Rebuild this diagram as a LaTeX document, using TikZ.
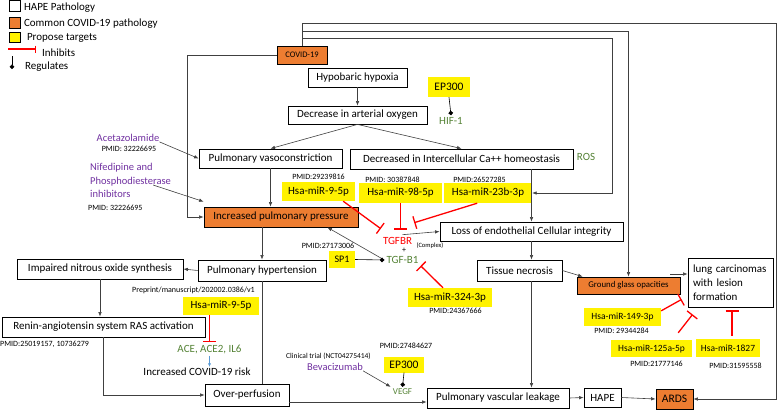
\documentclass[tikz,border=0pt]{standalone}
\usepackage{fontspec}
\setmainfont{Carlito}
\usetikzlibrary{arrows.meta,calc}
\definecolor{covidorange}{HTML}{ED7D31}
\definecolor{genegreen}{HTML}{548235}
\definecolor{drugpurple}{HTML}{7030A0}
\definecolor{linegray}{HTML}{404040}
\definecolor{riskblue}{HTML}{5B9BD5}

\begin{document}
\begin{tikzpicture}[x=1pt,y=-1pt]
        \tikzset{hape/.style={draw, fill=white, line width=0.8pt, inner xsep=2pt, inner ysep=0pt,
                font=\fontsize{11}{13}\selectfont},
            covidbox/.style={hape, fill=covidorange},
            target/.style={fill=yellow, inner xsep=2pt, inner ysep=0pt,
                font=\fontsize{11}{13}\selectfont},
            smalltarget/.style={target, font=\fontsize{9.5}{11}\selectfont},
            gene/.style={text=genegreen, font=\fontsize{11}{13}\selectfont, inner sep=2pt},
            drug/.style={text=drugpurple, font=\fontsize{10.5}{13.5}\selectfont, inner sep=0pt},
            pmid/.style={font=\fontsize{8}{10}\selectfont, inner sep=0pt},
            arr/.style={draw=linegray, line width=0.6pt, -{Latex[length=4.5pt,width=3.5pt]}},
            inhibit/.style={draw=red, line width=1.3pt, -{Bar[width=13pt]}},
            regulates/.style={draw=black, line width=0.6pt, -{Circle[length=4.5pt]}}}
        \useasboundingbox (0,0) rectangle (778,410);
        % legend
        \node[draw, fill=white, minimum size=11pt, inner sep=0pt] (lghape) at (14.5,5.8) {};
        \node[anchor=west, font=\fontsize{11}{13}\selectfont] (lghapetxt) at (20.5,8) {HAPE Pathology};
        \node[draw, fill=covidorange, minimum size=11pt, inner sep=0pt] (lgcovid) at (14.5,22.5) {};
        \node[anchor=west, font=\fontsize{11}{13}\selectfont] (lgcovidtxt) at (20.5,24) {Common COVID-19 pathology};
        \node[draw, fill=yellow, minimum width=11pt, minimum height=10pt, inner sep=0pt] (lgtarget) at (14.5,37) {};
        \node[anchor=west, font=\fontsize{11}{13}\selectfont] (lgtargettxt) at (23.5,37.5) {Propose targets};
        \coordinate (lginhA) at (8,49);
        \coordinate (lginhB) at (36,49);
        \draw[draw=red, line width=1.2pt, -{Bar[width=7pt,color=red]}] (lginhA) -- (lginhB);
        \node[anchor=west, font=\fontsize{11}{13}\selectfont] (lginhtxt) at (38.5,53) {Inhibits};
        \coordinate (lgregA) at (12,56);
        \coordinate (lgregB) at (12,69);
        \draw[regulates] (lgregA) -- (lgregB);
        \node[anchor=west, font=\fontsize{11}{13}\selectfont] (lgregtxt) at (21.5,67) {Regulates};

        % pathology boxes
        \node[covidbox, minimum width=50pt, minimum height=18pt, font=\fontsize{8.5}{10}\selectfont] (covid) at (302,55) {COVID-19};
        \node[hape, minimum width=99pt, minimum height=19pt] (hypo) at (357.5,77.5) {Hypobaric hypoxia};
        \node[hape, minimum width=139pt, minimum height=18pt] (dao) at (357.5,115) {Decrease in arterial oxygen};
        \node[hape, minimum width=143pt, minimum height=19pt] (pvc) at (270.5,158.5) {Pulmonary vasoconstriction};
        \node[hape, minimum width=223pt, minimum height=20pt] (dca) at (461.5,159) {Decreased in Intercellular Ca++ homeostasis};
        \node[covidbox, minimum width=154pt, minimum height=20pt] (ipp) at (281,217) {Increased pulmonary pressure};
        \node[hape, minimum width=183pt, minimum height=19pt] (loss) at (531.5,231.5) {Loss of endothelial Cellular integrity};
        \node[hape, minimum width=128pt, minimum height=21pt] (ph) at (262,270.5) {Pulmonary hypertension};
        \node[hape, minimum width=166pt, minimum height=20pt] (inos) at (100,269) {Impaired nitrous oxide synthesis};
        \node[hape, minimum width=203pt, minimum height=20pt] (ras) at (103.5,327) {Renin-angiotensin system RAS activation};
        \node[hape, minimum width=85pt, minimum height=21pt] (tn) at (519.5,270.5) {Tissue necrosis};
        \node[covidbox, minimum width=103pt, minimum height=17pt, font=\fontsize{8.8}{10}\selectfont] (gg) at (628.5,285.5) {Ground glass opacities};
        \node[hape, text width=75pt, inner xsep=5pt, minimum height=49pt, align=left,
            font=\fontsize{11}{14}\selectfont] (lung) at (730.5,282.5) {lung carcinomas\\with lesion\\formation};
        \node[hape, minimum width=84pt, minimum height=22pt] (op) at (247,395) {Over-perfusion};
        \node[hape, minimum width=142pt, minimum height=20pt] (pvl) at (498,398) {Pulmonary vascular leakage};
        \node[hape, minimum width=37pt, minimum height=19pt] (hapebox) at (602.5,397.5) {HAPE};
        \node[covidbox, minimum width=37pt, minimum height=20pt, font=\fontsize{11.5}{13}\selectfont] (ards) at (674.5,399) {ARDS};

        % targets
        \node[target, minimum width=42pt, minimum height=20pt, font=\fontsize{11.5}{13}\selectfont] (ep300a) at (449,87) {EP300};
        \node[target, minimum width=73pt, minimum height=19pt] (mir95a) at (318.5,191.5) {Hsa-miR-9-5p};
        \node[target, minimum width=83pt, minimum height=20pt] (mir98) at (400.5,193) {Hsa-miR-98-5p};
        \node[target, minimum width=88pt, minimum height=20pt] (mir23) at (488,193) {Hsa-miR-23b-3p};
        \node[target, minimum width=26pt, minimum height=17pt, font=\fontsize{10}{12}\selectfont] (sp1) at (342,259.5) {SP1};
        \node[target, minimum width=84pt, minimum height=19pt] (mir324) at (450,297.5) {Hsa-miR-324-3p};
        \node[target, minimum width=76pt, minimum height=18pt] (mir95b) at (221,306) {Hsa-miR-9-5p};
        \node[target, minimum width=40pt, minimum height=16pt, font=\fontsize{11.5}{13}\selectfont] (ep300b) at (404,364.5) {EP300};
        \node[smalltarget, minimum width=77pt, minimum height=18pt] (mir149) at (622.5,317) {Hsa-miR-149-3p};
        \node[smalltarget, minimum width=81pt, minimum height=17pt] (mir125) at (651.5,348.5) {Hsa-miR-125a-5p};
        \node[smalltarget, minimum width=64pt, minimum height=18pt] (mir1827) at (728,348) {Hsa-miR-1827};

        % genes, drugs, notes
        \node[gene] (hif) at (451,121) {HIF-1};
        \node[gene] (ros) at (586,157) {ROS};
        \node[gene, text=red] (tgfbr) at (397.5,240.5) {TGFBR};
        \node[font=\fontsize{6.5}{8}\selectfont, inner sep=0pt] (complex) at (430,246) {(Complex)};
        \node[font=\fontsize{8}{9}\selectfont, inner sep=0pt] (plus) at (404,250.5) {+};
        \node[gene] (tgfb1) at (402.5,260) {TGF-B1};
        \node[gene] (ace) at (209.5,349) {ACE, ACE2, IL6};
        \node[font=\fontsize{11}{13}\selectfont, inner sep=1pt] (risk) at (197,372) {Increased COVID-19 risk};
        \node[gene, font=\fontsize{9}{11}\selectfont] (vegf) at (402.5,392) {VEGF};
        \node[drug] (bev) at (335,367) {Bevacizumab};
        \node[font=\fontsize{7.5}{9}\selectfont, inner sep=0pt] (clin) at (328.5,356) {Clinical trial (NCT04275414)};
        \node[drug] (acet) at (128,138) {Acetazolamide};
        \node[drug, anchor=west, align=left] (nif) at (90,180.5) {Nifedipine and\\Phosphodiesterase\\inhibitors};
        \node[pmid] (pmacet) at (129,149) {PMID: 32226695};
        \node[pmid, anchor=west] (pmnif) at (88,208) {PMID: 32226695};
        \node[pmid] (pm95a) at (318.5,177) {PMID:29239816};
        \node[pmid] (pm98) at (392.5,179.5) {PMID: 30387848};
        \node[pmid] (pm23) at (479.5,179.5) {PMID:26527285};
        \node[pmid] (pmsp1) at (328,246) {PMID:27173006};
        \node[pmid] (pm324) at (455.5,311) {PMID:24367666};
        \node[pmid] (pm95b) at (193.5,290) {Preprint/manuscript/202002.0386/v1};
        \node[pmid, anchor=west] (pmras) at (0,344) {PMID:25019157, 10736279};
        \node[pmid] (pmep300b) at (406,346) {PMID:27484627};
        \node[pmid] (pm149) at (621.5,331) {PMID: 29344284};
        \node[pmid] (pm125) at (656.5,364) {PMID:21777146};
        \node[pmid] (pm1827) at (735.5,366) {PMID:31595558};

        % COVID-19 links
        \draw[arr] (covid.west) -- ++(-89,0) |- (ipp.west);
        \draw[arr] (covid.north) |- (776,23) |- (ards.east);
        \draw[arr] (covid.north) |- (gg.north |- 0,31) -- (gg.north);
        \draw[arr] (covid.north) |- (612,38) |- (mir23.east);

        % pathway
        \draw[arr] (hypo.south) -- (dao.north);
        \draw[arr] (dao.south) -- (pvc.north);
        \draw[arr] (dao.south) -- (dca.north);
        \draw[arr] (acet.south east) -- (pvc.west);
        \draw[arr] ($(nif.east)+(-18,4.5)$) -- ([yshift=5pt]ipp.north west);
        \draw[arr] (pvc.south) -- (pvc.south |- ipp.north);
        \draw[arr] (dca.south -| loss.north) -- (loss.north);
        \draw[arr] (loss.south) -- (loss.south |- tn.north);
        \draw[arr] (tn.south -| loss.south) -- (pvl.north -| loss.south);
        \draw[arr] (tn.east) -- ([xshift=6pt]gg.north west);
        \coordinate (gglink) at (670,274);
        \draw[arr] (gglink) -- (gglink -| lung.west);
        \draw[arr] (ipp.south -| ph.north) -- (ph.north);
        \draw[arr] (ph.west) -- (inos.east);
        \draw[arr] (inos.south) -- (inos.south |- ras.north);
        \draw[arr] (ras.south) |- (op.west);
        \draw[draw=linegray, line width=0.6pt] (ph.south) -- (ph.south |- op.north);
        \draw[arr] ([yshift=-7pt]op.east) -- ([yshift=-4pt]pvl.west);
        \draw[arr] (pvl.east) -- (hapebox.west);
        \draw[arr] (hapebox.east) -- (ards.west);
        \draw[arr] (tgfb1.west) -- ([xshift=-31pt]ipp.south east);
        \draw[arr] ([xshift=5pt]tgfbr.north) -- (loss.west);
        \draw[arr] (bev.south east) -- (vegf.north west);
        \draw[draw=riskblue, line width=0.6pt, -{Latex[length=3.5pt,width=3pt]}] (ace.south) -- (ace.south |- risk.north);

        % regulates
        \draw[regulates] (ep300a.south) -- (hif.north);
        \draw[regulates] (sp1.east) -- (tgfb1.west);
        \draw[regulates] (ep300b.south) -- (vegf.north);

        % inhibits
        \draw[inhibit] ([xshift=-12pt]mir95a.south east) -- ([yshift=6pt]tgfbr.north west);
        \draw[inhibit] (mir98.south) -- ($(tgfbr.north -| mir98.south)+(0,-5)$);
        \draw[inhibit] ([xshift=-55pt]mir23.south east) -- ($(tgfbr.north east)+(0,-12)$);
        \draw[inhibit] ([xshift=-7pt]mir324.north) -- (tgfb1.south east);
        \draw[inhibit] (mir95b.south -| ace.north) -- (ace.north);
        \draw[inhibit] ($(mir149.north east)+(0,3)$) -- ($(lung.south west)+(-6,-8)$);
        \draw[inhibit] ($(mir125.north east)+(-14,-7)$) -- ($(lung.south west)+(5,7)$);
        \draw[inhibit] ($(mir1827.north)+(4,-3)$) -- ($(mir1827.north |- lung.south)+(4,3)$);
    \end{tikzpicture}
\end{document}
